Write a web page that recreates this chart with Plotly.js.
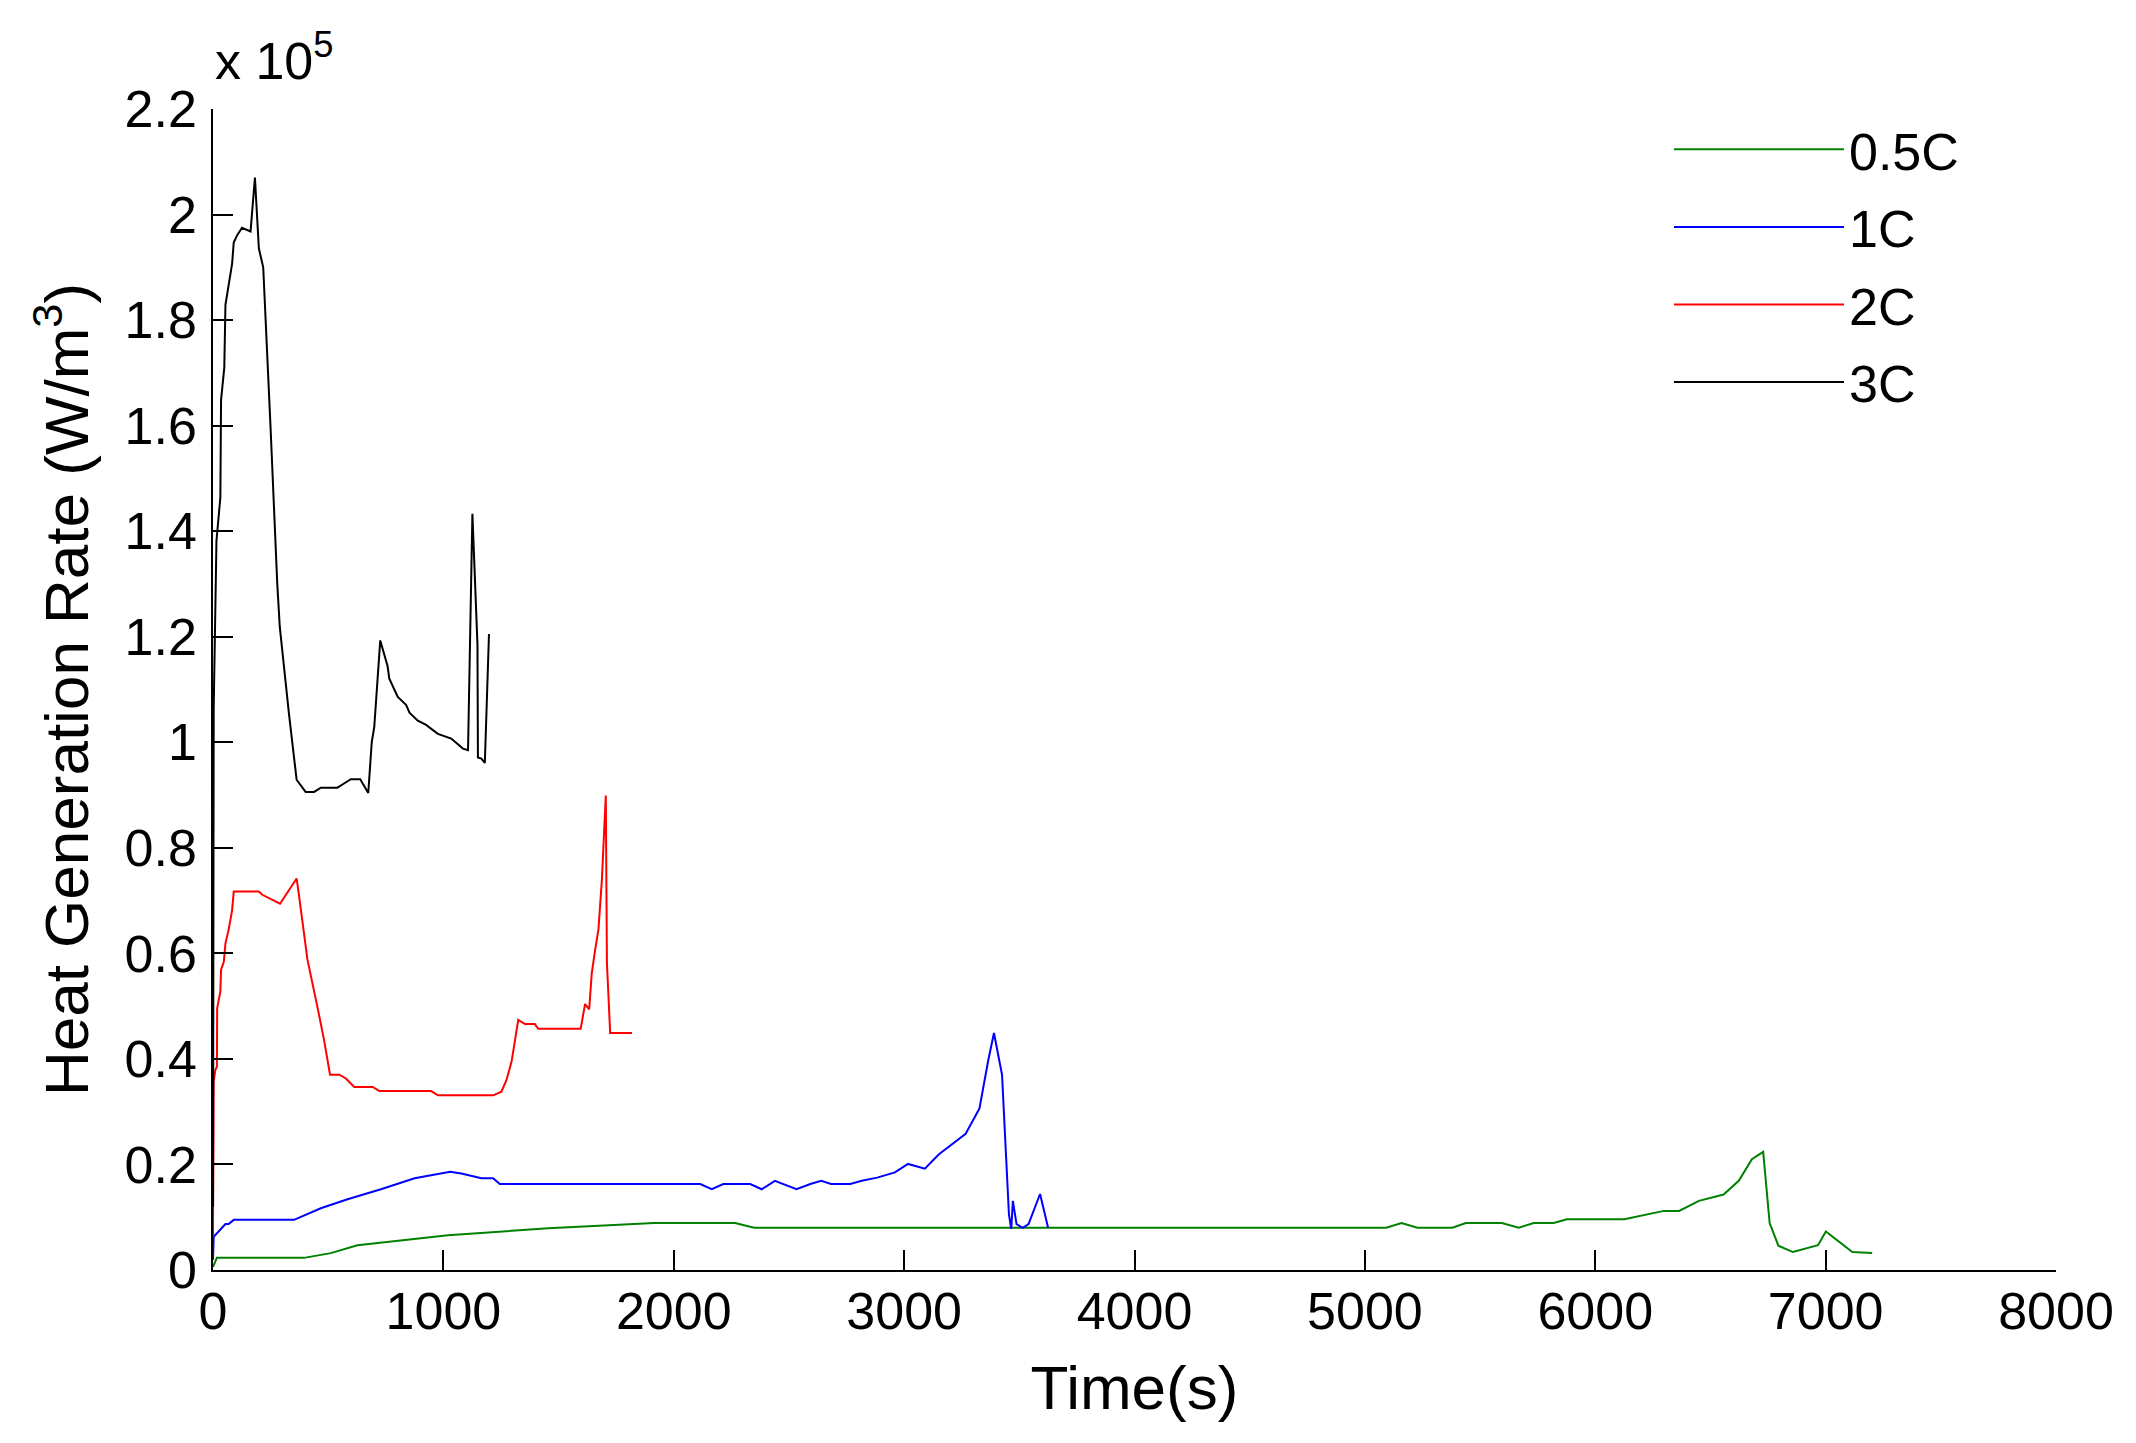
<!DOCTYPE html>
<html>
<head>
<meta charset="utf-8">
<script src="https://cdn.plot.ly/plotly-3.0.1.min.js"></script>
<style>
  html, body { margin: 0; padding: 0; background: #fff; }
  #chart { width: 2136px; height: 1443px; }
</style>
</head>
<body>
<div id="chart"></div>
<script>
// heat generation rate, in units of 1e5 W/m^3, against time (s)
var t05 = [0, 17, 395, 511, 627, 1020, 1455, 1915, 2266, 2349, 5093, 5159, 5228, 5380, 5438, 5595, 5667, 5733, 5819, 5877, 6126, 6227, 6298, 6364, 6450, 6557, 6623, 6680, 6729, 6757, 6795, 6858, 6967, 7001, 7116, 7202];
var q05 = [0.006, 0.023, 0.023, 0.032, 0.047, 0.066, 0.079, 0.089, 0.089, 0.080, 0.080, 0.089, 0.080, 0.080, 0.089, 0.089, 0.080, 0.089, 0.089, 0.096, 0.096, 0.105, 0.112, 0.112, 0.131, 0.143, 0.169, 0.210, 0.224, 0.089, 0.046, 0.034, 0.047, 0.073, 0.034, 0.032];

var t1 = [0, 3, 54, 68, 90, 352, 468, 584, 729, 875, 1030, 1078, 1165, 1216, 1245, 2115, 2165, 2215, 2332, 2382, 2439, 2533, 2593, 2640, 2683, 2766, 2816, 2883, 2960, 3017, 3090, 3150, 3267, 3327, 3365, 3390, 3425, 3440, 3455, 3465, 3472, 3488, 3515, 3540, 3590, 3625];
var q1 = [0.019, 0.063, 0.087, 0.087, 0.095, 0.095, 0.117, 0.134, 0.153, 0.174, 0.186, 0.183, 0.174, 0.174, 0.163, 0.163, 0.153, 0.163, 0.163, 0.153, 0.169, 0.153, 0.163, 0.169, 0.163, 0.163, 0.169, 0.175, 0.185, 0.201, 0.192, 0.219, 0.258, 0.306, 0.397, 0.449, 0.370, 0.242, 0.105, 0.078, 0.131, 0.087, 0.080, 0.087, 0.144, 0.080];

var t2 = [0, 3, 10, 17, 18, 32, 35, 47, 54, 68, 83, 90, 199, 214, 291, 363, 373, 395, 410, 453, 482, 508, 548, 577, 613, 693, 722, 947, 976, 1216, 1252, 1274, 1296, 1325, 1354, 1397, 1412, 1596, 1615, 1633, 1644, 1659, 1673, 1688, 1699, 1705, 1710, 1717, 1724, 1819];
var q2 = [0.063, 0.357, 0.379, 0.385, 0.496, 0.528, 0.569, 0.584, 0.619, 0.645, 0.682, 0.717, 0.717, 0.711, 0.694, 0.742, 0.711, 0.638, 0.588, 0.499, 0.436, 0.370, 0.370, 0.363, 0.347, 0.347, 0.339, 0.339, 0.331, 0.331, 0.338, 0.360, 0.395, 0.474, 0.466, 0.466, 0.457, 0.457, 0.504, 0.494, 0.562, 0.607, 0.645, 0.739, 0.847, 0.899, 0.581, 0.525, 0.449, 0.449];

var t3 = [0, 3, 15, 32, 35, 49, 54, 83, 90, 105, 126, 163, 182, 199, 218, 235, 250, 279, 290, 330, 363, 402, 439, 468, 540, 562, 598, 639, 674, 689, 700, 726, 758, 765, 802, 838, 853, 889, 925, 976, 1034, 1085, 1107, 1126, 1148, 1150, 1165, 1180, 1198];
var q3 = [0.12, 1.062, 1.382, 1.464, 1.649, 1.710, 1.829, 1.907, 1.947, 1.961, 1.975, 1.968, 2.07, 1.936, 1.90, 1.743, 1.595, 1.30, 1.218, 1.053, 0.929, 0.906, 0.906, 0.914, 0.914, 0.920, 0.930, 0.930, 0.904, 1.0, 1.029, 1.193, 1.144, 1.121, 1.086, 1.071, 1.056, 1.041, 1.033, 1.016, 1.007, 0.988, 0.985, 1.433, 1.185, 0.971, 0.969, 0.961, 1.205];

var names = ['0.5C', '1C', '2C', '3C'];
var colors = ['#008000', '#0000ff', '#ff0000', '#000000'];
var xs = [t05, t1, t2, t3];
var ys = [q05, q1, q2, q3];

var font = 'Liberation Sans, Arial, sans-serif';

var data = [];
for (var i = 0; i < names.length; i++) {
  data.push({
    name: names[i],
    x: xs[i],
    y: ys[i],
    type: 'scatter',
    mode: 'lines',
    legendgroup: 'g' + i,
    line: { color: colors[i], width: 2 }
  });
}

var layout = {
  width: 2136,
  height: 1443,
  paper_bgcolor: '#ffffff',
  plot_bgcolor: '#ffffff',
  font: { family: font, color: '#000000', size: 52 },
  margin: { l: 213, r: 80, t: 109, b: 173 },
  showlegend: true,
  legend: {
    x: 0.79, y: 1.0, xanchor: 'left', yanchor: 'top',
    font: { family: font, size: 52 },
    bgcolor: 'rgba(0,0,0,0)',
    tracegroupgap: 7,
    itemwidth: 170
  },
  xaxis: {
    range: [0, 8000],
    dtick: 1000,
    ticks: 'inside',
    ticklen: 20,
    tickwidth: 1.5,
    tickcolor: '#000',
    showline: true,
    linecolor: '#000',
    linewidth: 1.5,
    showgrid: false,
    zeroline: false,
    ticklabelstandoff: -5,
    tickfont: { family: font, size: 52 },
    title: { text: 'Time(s)', font: { family: font, size: 62 }, standoff: 26 }
  },
  yaxis: {
    range: [0, 2.2],
    dtick: 0.2,
    ticks: 'inside',
    ticklen: 20,
    tickwidth: 1.5,
    tickcolor: '#000',
    showline: true,
    linecolor: '#000',
    linewidth: 1.5,
    showgrid: false,
    zeroline: false,
    ticklabelstandoff: 4,
    tickfont: { family: font, size: 52 },
    title: { text: 'Heat Generation Rate (W/m<sup>3</sup>)', font: { family: font, size: 62 }, standoff: 16 }
  },
  annotations: [{
    xref: 'paper', yref: 'paper',
    x: 0, y: 1.015,
    xanchor: 'left', yanchor: 'bottom',
    showarrow: false,
    text: 'x 10<sup>5</sup>',
    font: { family: font, size: 52 }
  }]
};

var config = {
  displayModeBar: false,
  responsive: false
};

Plotly.newPlot('chart', data, layout, config);
</script>
</body>
</html>
